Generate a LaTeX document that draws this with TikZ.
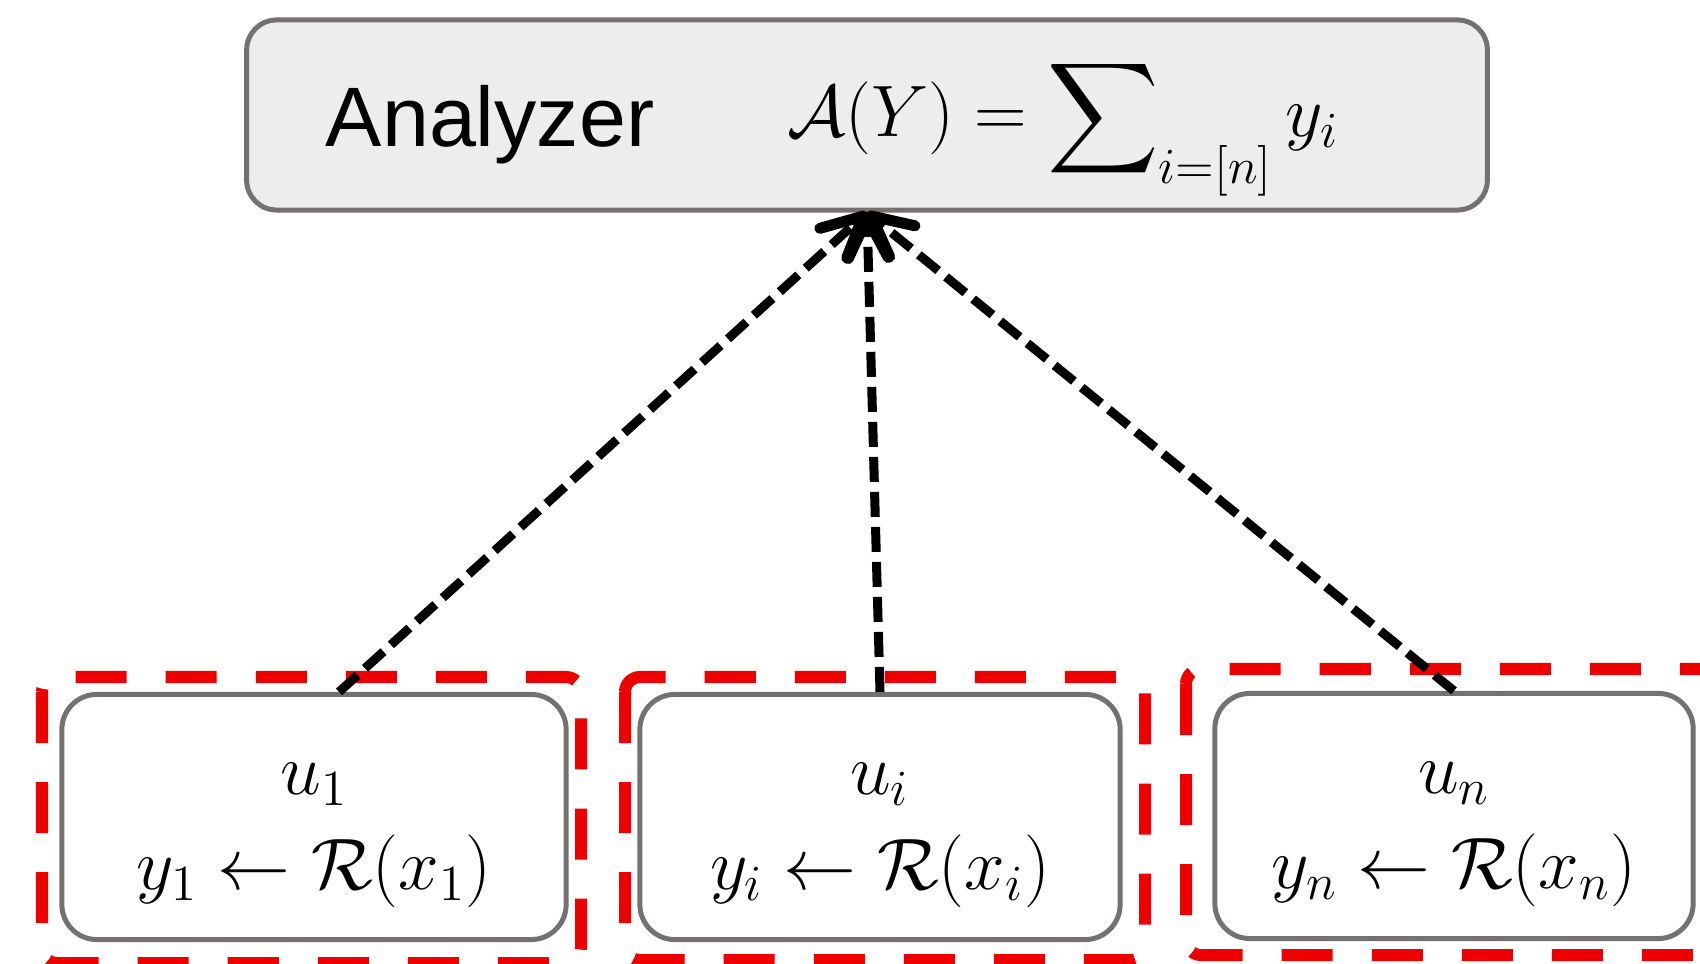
\documentclass[tikz,border=0pt]{standalone}
\usepackage{fontspec}
\newfontfamily\analyzerfont{Liberation Sans}
\definecolor{framered}{RGB}{238, 0, 0}
\definecolor{boxgray}{RGB}{118, 113, 113}
\definecolor{boxfill}{RGB}{237, 237, 237}
\usepackage{tikz}
\usetikzlibrary{arrows.meta}
\usepackage{amsmath, amssymb}

\begin{document}
\begin{tikzpicture}[
  x=0.01cm, y=-0.01cm,
  abox/.style={draw=boxgray, fill=boxfill, line width=0.05cm, rounded corners=0.3cm, minimum width=12.4cm, minimum height=1.9cm},
  ubox/.style={draw=boxgray, line width=0.05cm, rounded corners=0.35cm, align=center, text height=1.45cm, text depth=0cm, font=\fontsize{21}{27}\selectfont, minimum height=2.45cm},
  uframe/.style={draw=framered, line width=0.12cm, dash pattern=on 0.51cm off 0.39cm, rounded corners=0.15cm},
  upload/.style={line width=0.09cm, dash pattern=on 0.25cm off 0.1cm, -{Straight Barb[length=0.4cm, width=0.4cm, round, line width=0.11cm]}}
]
  \useasboundingbox (0,0) rectangle (1700,964);
  \clip (0,0) rectangle (1700,964);

  \draw[uframe] (42,677) rectangle (581,963);
  \draw[uframe] (625,677) rectangle (1145,960);
  \draw[uframe] (1186,669) rectangle (1730,955);

  \node[abox] (analyzer) at (867,115) {};
  \node[font=\analyzerfont\fontsize{24}{29}\selectfont, anchor=base] (analyzername) at (490,147) {Analyzer};
  \node[font=\fontsize{22}{26}\selectfont, anchor=base] (analyzersum) at (1063,137) {$\mathcal{A}(Y) = \displaystyle\sum\nolimits_{i=[n]} y_i$};

  \node[ubox, minimum width=5.04cm] (user1) at (314,817) {$u_1$\\$y_1 \leftarrow \mathcal{R}(x_1)$};
  \node[ubox, minimum width=4.8cm] (user2) at (880,817) {$u_i$\\$y_i \leftarrow \mathcal{R}(x_i)$};
  \node[ubox, minimum width=4.78cm] (user3) at (1454,816) {$u_n$\\$y_n \leftarrow \mathcal{R}(x_n)$};

  \draw[upload] ([xshift=0.25cm]user1.north) -- (analyzer.south);
  \draw[upload] (user2.north) -- (analyzer.south);
  \draw[upload] (user3.north) -- (analyzer.south);
\end{tikzpicture}
\end{document}
